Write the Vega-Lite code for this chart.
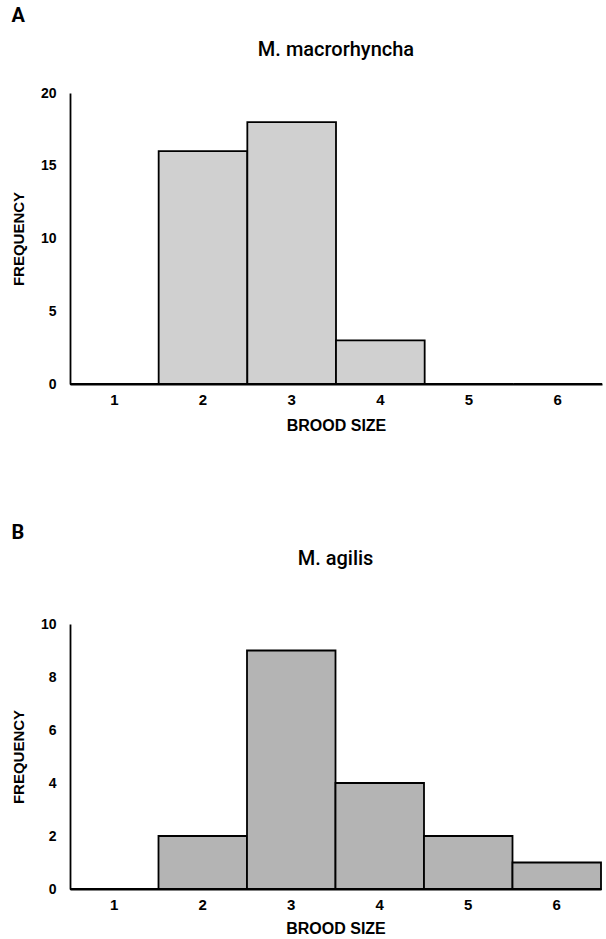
{
  "$schema": "https://vega.github.io/schema/vega-lite/v6.json",
  "background": "white",
  "padding": {"left": 11, "top": 6, "right": 0, "bottom": 0},
  "config": {
    "font": "Liberation Sans",
    "view": {"stroke": null},
    "axis": {"ticks": false, "grid": false, "domainColor": "black", "domainWidth": 1.8, "labelColor": "black", "titleColor": "black", "labelFont": "Liberation Sans", "titleFont": "Liberation Sans Narrow, Liberation Sans", "labelFontWeight": "bold", "titleFontWeight": "bold", "labelFontSize": 14, "titleFontSize": 15},
    "title": {"font": "Roboto", "color": "black"}
  },
  "spacing": 90,
  "vconcat": [
    {
      "title": {"text": "A", "anchor": "start", "fontSize": 20, "fontWeight": "bold", "offset": 14, "dx": 0},
      "vconcat": [
        {
          "title": {"text": "M. macrorhyncha", "anchor": "middle", "fontSize": 20, "fontWeight": 500, "offset": 26},
          "width": 532,
          "height": 291,
          "data": {"values": [
            {"brood": "1", "frequency": 0},
            {"brood": "2", "frequency": 16},
            {"brood": "3", "frequency": 18},
            {"brood": "4", "frequency": 3},
            {"brood": "5", "frequency": 0},
            {"brood": "6", "frequency": 0}
          ]},
          "mark": {"type": "bar", "fill": "#d0d0d0", "stroke": "black", "strokeWidth": 1.8},
          "encoding": {
            "x": {"field": "brood", "type": "ordinal", "scale": {"paddingInner": 0, "paddingOuter": 0}, "axis": {"title": "BROOD SIZE", "labelAngle": 0, "labelPadding": 8, "titlePadding": 10, "labelFontSize": 15, "titleFontSize": 16}},
            "y": {"field": "frequency", "type": "quantitative", "scale": {"domain": [0, 20]}, "axis": {"title": "FREQUENCY", "values": [0, 5, 10, 15, 20], "labelPadding": 14, "titlePadding": 14}}
          }
        }
      ]
    },
    {
      "title": {"text": "B", "anchor": "start", "fontSize": 20, "fontWeight": "bold", "offset": 6, "dx": 0},
      "vconcat": [
        {
          "title": {"text": "M. agilis", "anchor": "middle", "fontSize": 20, "fontWeight": 500, "offset": 48},
          "width": 531,
          "height": 265,
          "data": {"values": [
            {"brood": "1", "frequency": 0},
            {"brood": "2", "frequency": 2},
            {"brood": "3", "frequency": 9},
            {"brood": "4", "frequency": 4},
            {"brood": "5", "frequency": 2},
            {"brood": "6", "frequency": 1}
          ]},
          "mark": {"type": "bar", "fill": "#b4b4b4", "stroke": "black", "strokeWidth": 1.8},
          "encoding": {
            "x": {"field": "brood", "type": "ordinal", "scale": {"paddingInner": 0, "paddingOuter": 0}, "axis": {"title": "BROOD SIZE", "labelAngle": 0, "labelPadding": 8, "titlePadding": 8, "labelFontSize": 15, "titleFontSize": 16}},
            "y": {"field": "frequency", "type": "quantitative", "scale": {"domain": [0, 10]}, "axis": {"title": "FREQUENCY", "values": [0, 2, 4, 6, 8, 10], "labelPadding": 14, "titlePadding": 14}}
          }
        }
      ]
    }
  ]
}
